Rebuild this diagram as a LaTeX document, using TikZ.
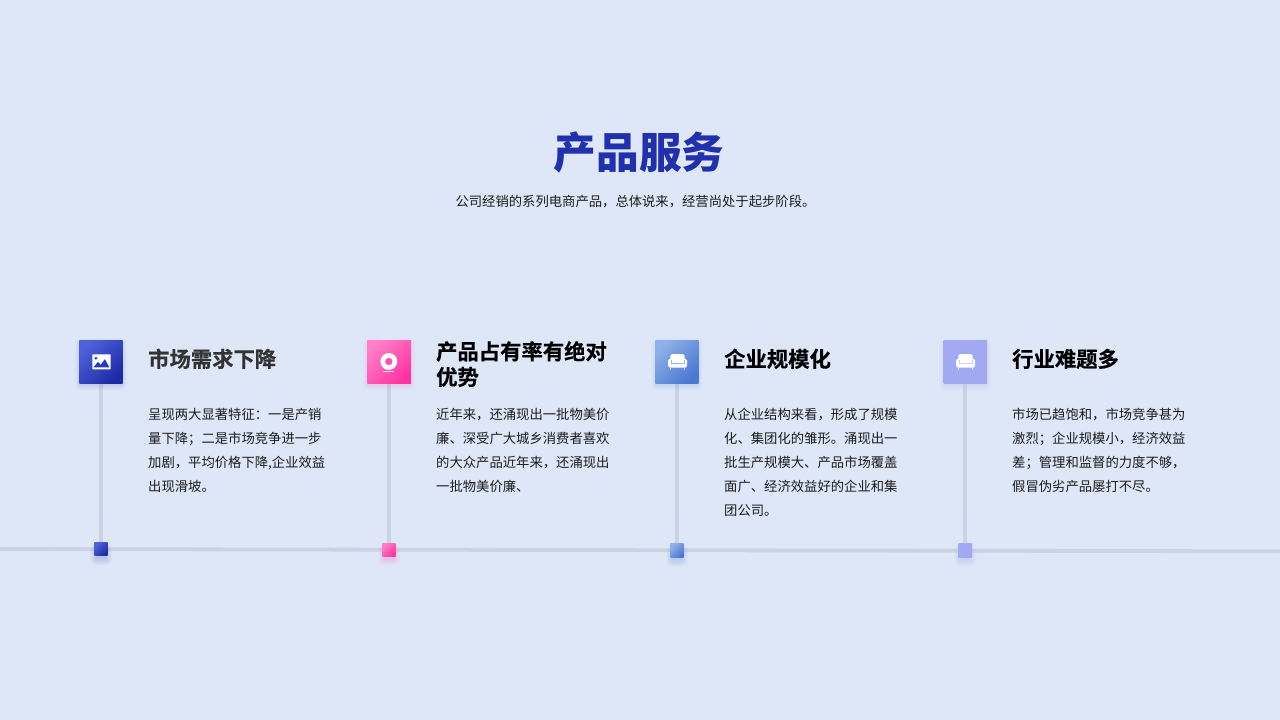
\documentclass[tikz,border=0pt]{standalone}
\usepackage{fontspec}
\setmainfont{Noto Sans CJK SC}[BoldFont={Noto Sans CJK SC Bold}]
\newfontfamily\titlefont{Noto Sans CJK SC Black}
\newfontfamily\headfont{Noto Sans CJK SC Bold}[FakeBold=0.4]
\usetikzlibrary{backgrounds}
\definecolor{pagebg}{HTML}{DDE7F8}
\definecolor{railc}{HTML}{CAD3E2}
\definecolor{titlec}{HTML}{2130AD}
\definecolor{bodyc}{HTML}{1C1C1C}
\definecolor{aL}{HTML}{4D62D8}\definecolor{aD}{HTML}{1D2BA6}
\definecolor{bL}{HTML}{FF7FC8}\definecolor{bD}{HTML}{FF34A1}
\definecolor{cL}{HTML}{8FB0E8}\definecolor{cD}{HTML}{4A78D2}
\definecolor{dL}{HTML}{A3AAF3}\definecolor{dD}{HTML}{A0A8F2}
\tikzset{
  x=1pt,y=-1pt,
  iconbox/.style n args={2}{draw=none,inner sep=0pt,minimum size=43.4pt,left color=#1,right color=#2,shading angle=45},
  dotbox/.style n args={2}{draw=none,inner sep=0pt,minimum size=13.4pt,left color=#1,right color=#2,shading angle=45},
  rail/.style={draw=railc,line width=3.8pt},
  stem/.style={draw=railc,line width=3.8pt},
  headtext/.style={anchor=base west,inner sep=0pt,font=\headfont\fontsize{21.33}{25.5}\selectfont},
  bodytext/.style={anchor=north west,inner sep=0pt,text width=195pt,align=left,text=bodyc,font=\fontsize{13.33}{24}\selectfont},
}
\newcommand{\softshadow}[6]{% x y half dy colour opacity
  \foreach \g in {0,1.5,...,6}{
    \fill[#5,opacity=#6,rounded corners=\g pt] (#1-#3-\g+2,#2-#3-\g+2+#4) rectangle (#1+#3+\g-2,#2+#3+\g-2+#4);
  }}
\newcommand{\sofaicon}[3]{%
  \begin{scope}[shift={(#1,#2)}]
    \fill[white,rounded corners=2pt] (-7.2,-7.8) rectangle (7.2,3);
    \fill[white,rounded corners=1.5pt] (-9.5,-3.2) rectangle (9.5,5.5);
    \draw[white!45!#3,line width=0.6pt] (-6.6,-2.5) -- (-6.6,1.4) -- (6.6,1.4) -- (6.6,-2.5);
    \fill[white!70!#3] (-7.6,5.5) rectangle (-6.6,8);
    \fill[white!70!#3] (6.6,5.5) rectangle (7.6,8);
  \end{scope}}
\begin{document}
\begin{tikzpicture}
\useasboundingbox (0,0) rectangle (1280,720);
% rail ends
\coordinate (railL) at (0,549);
\coordinate (railR) at (1280,551.3);
% title
\node[anchor=base,inner sep=0pt,text=titlec,font=\titlefont\fontsize{42.67}{50}\selectfont] (title) at (639,168.5) {产品服务};
\node[anchor=base,inner sep=0pt,text=bodyc,font=\fontsize{13.33}{16}\selectfont] (sub) at (635.5,206) {公司经销的系列电商产品，总体说来，经营尚处于起步阶段。};
% icon boxes
\node[iconbox={aL}{aD}] (i1) at (101,361.7) {};
\node[iconbox={bL}{bD}] (i2) at (389.1,361.7) {};
\node[iconbox={cL}{cD}] (i3) at (677,361.8) {};
\node[iconbox={dL}{dD}] (i4) at (965.3,362) {};
% small squares
\node[dotbox={aL}{aD}] (s1) at (101,549.2) {};
\node[dotbox={bL}{bD}] (s2) at (389,550) {};
\node[dotbox={cL}{cD}] (s3) at (677,550.6) {};
\node[dotbox={dL}{dD}] (s4) at (965.3,550.6) {};
\begin{scope}[on background layer]
  \fill[pagebg] (0,0) rectangle (1280,720);
  \draw[rail] (railL) -- (railR);
  \draw[stem] (i1) -- (s1);
  \draw[stem] (i2) -- (s2);
  \draw[stem] (i3) -- (s3);
  \draw[stem] (i4) -- (s4);
  \softshadow{101}{361.7}{21.7}{2.5}{aD}{0.035}
  \softshadow{389.1}{361.7}{21.7}{2.5}{bD}{0.035}
  \softshadow{677}{361.8}{21.7}{2.5}{cD}{0.035}
  \softshadow{965.3}{362}{21.7}{2.5}{dD}{0.05}
  \softshadow{101}{549.2}{6.7}{5}{aD}{0.04}
  \softshadow{389}{550}{6.7}{5}{bD}{0.04}
  \softshadow{677}{550.6}{6.7}{5}{cD}{0.05}
  \softshadow{965.3}{550.6}{6.7}{5}{dD}{0.07}
\end{scope}
% picture glyph
\begin{scope}[shift={(101.5,361.8)}]
  \fill[white,rounded corners=0.6pt] (-9.2,-7.5) rectangle (9.2,7.5);
  \fill[aD!70!aL] (-5.6,-3.6) circle (1.5);
  \fill[aD!70!aL] (-8,5.6) -- (-3.5,0) -- (-0.8,3) -- (3.4,-2.6) -- (8,5.6) -- cycle;
\end{scope}
% webcam glyph
\begin{scope}[shift={(388.8,361.5)}]
  \fill[white] (0,0) circle (8.4);
  \fill[bD!60!bL] (0,0) circle (3.7);
  \fill[white!80!bD] (-5.5,9.4) rectangle (5.5,10.6);
\end{scope}
\sofaicon{677.5}{362}{cD}
\sofaicon{965.5}{362}{dL}
% headings
\node[headtext,text={rgb,255:red,51;green,51;blue,51}] (h1) at (148,367) {市场需求下降};
\node[headtext,anchor=north west,align=left,text=black] (h2) at (436,341) {产品占有率有绝对\\优势};
\node[headtext,text=black] (h3) at (724,367) {企业规模化};
\node[headtext,text=black] (h4) at (1012,367) {行业难题多};
% bodies
\node[bodytext] (b1) at (148,402.2) {\strut 呈现两大显著特征：一是产销\\量下降；二是市场竞争进一步\\加剧，平均价格下降,企业效益\\出现滑坡。};
\node[bodytext] (b2) at (436,402.2) {\strut 近年来，还涌现出一批物美价\\廉、深受广大城乡消费者喜欢\\的大众产品近年来，还涌现出\\一批物美价廉、};
\node[bodytext] (b3) at (724,402.2) {\strut 从企业结构来看，形成了规模\\化、集团化的雏形。涌现出一\\批生产规模大、产品市场覆盖\\面广、经济效益好的企业和集\\团公司。};
\node[bodytext] (b4) at (1012,402.2) {\strut 市场已趋饱和，市场竞争甚为\\激烈；企业规模小，经济效益\\差；管理和监督的力度不够，\\假冒伪劣产品屡打不尽。};
\end{tikzpicture}
\end{document}
